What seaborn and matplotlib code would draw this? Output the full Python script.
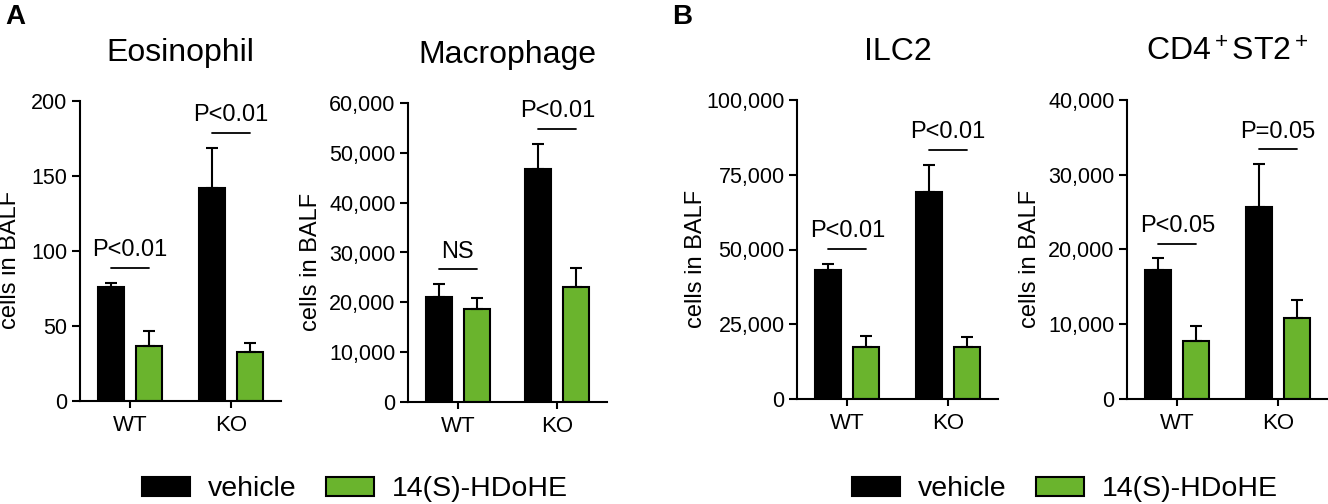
import matplotlib
matplotlib.use("Agg")
import matplotlib.pyplot as plt
import matplotlib.ticker as mticker
from matplotlib.patches import Patch
import numpy as np
import pandas as pd
import seaborn as sns

groups = ["WT", "KO"]
treatments = ["vehicle", "14(S)-HDoHE"]
titles = ["Eosinophil", "Macrophage", "ILC2", r"CD4$^+$ST2$^+$"]

# mean and upper error (SEM)
eos_vehicle = [76, 142]
eos_vehicle_err = [3, 27]
eos_hdohe = [36.5, 33]
eos_hdohe_err = [10, 6]

mac_vehicle = [21000, 46800]
mac_vehicle_err = [2600, 5000]
mac_hdohe = [18700, 23000]
mac_hdohe_err = [2200, 3900]

ilc2_vehicle = [43000, 69200]
ilc2_vehicle_err = [2300, 9000]
ilc2_hdohe = [17500, 17400]
ilc2_hdohe_err = [3600, 3300]

cd4_vehicle = [17200, 25700]
cd4_vehicle_err = [1600, 5700]
cd4_hdohe = [7800, 10900]
cd4_hdohe_err = [2000, 2300]

eos_p = ["P<0.01", "P<0.01"]
mac_p = ["NS", "P<0.01"]
ilc2_p = ["P<0.01", "P<0.01"]
cd4_p = ["P<0.05", "P=0.05"]

y_max = [200, 60000, 100000, 40000]
y_step = [50, 10000, 25000, 10000]

panels = [
    (eos_vehicle, eos_vehicle_err, eos_hdohe, eos_hdohe_err, eos_p),
    (mac_vehicle, mac_vehicle_err, mac_hdohe, mac_hdohe_err, mac_p),
    (ilc2_vehicle, ilc2_vehicle_err, ilc2_hdohe, ilc2_hdohe_err, ilc2_p),
    (cd4_vehicle, cd4_vehicle_err, cd4_hdohe, cd4_hdohe_err, cd4_p),
]

BLACK = "#000000"
GREEN = "#6ab42d"

sns.set_style("ticks")
plt.rcParams["font.family"] = ["Liberation Sans", "DejaVu Sans"]
plt.rcParams["mathtext.fontset"] = "custom"
plt.rcParams["mathtext.rm"] = "Liberation Sans"
plt.rcParams["mathtext.it"] = "Liberation Sans"
plt.rcParams["axes.linewidth"] = 1.5
for key in ["text.color", "axes.labelcolor", "xtick.color", "ytick.color",
            "axes.edgecolor"]:
    plt.rcParams[key] = "black"

W, H = 1328, 504
fig = plt.figure(figsize=(W / 100, H / 100), dpi=100)

# axes boxes in pixels: left, right, top, bottom
boxes = [(80, 281, 101, 401), (408, 607, 103, 402),
         (797, 998, 100, 399), (1127, 1328, 100, 399)]
label_x_px = [21, 322, 707, 1041]

for i, (veh, veh_err, trt, trt_err, pvals) in enumerate(panels):
    l, r, t, b = boxes[i]
    ax = fig.add_axes([l / W, (H - b) / H, (r - l) / W, (b - t) / H])

    df = pd.DataFrame({
        "group": groups * 2,
        "treatment": [treatments[0]] * 2 + [treatments[1]] * 2,
        "value": veh + trt,
    })
    sns.barplot(data=df, x="group", y="value", hue="treatment",
                order=groups, hue_order=treatments,
                palette=[BLACK, GREEN], saturation=1,
                width=0.76, gap=0.32, errorbar=None,
                edgecolor="black", linewidth=1.5, legend=False, ax=ax)

    centers = []
    for cont, err in zip(ax.containers, [veh_err, trt_err]):
        xs = [p.get_x() + p.get_width() / 2 for p in cont.patches]
        ys = [p.get_height() for p in cont.patches]
        ax.errorbar(xs, ys, yerr=[np.zeros(len(err)), err], fmt="none",
                    ecolor="black", elinewidth=1.5, capsize=4, capthick=1.5,
                    zorder=1)
        centers.append(xs)

    # significance lines and labels
    for j in range(len(groups)):
        x0 = centers[0][j]
        x1 = centers[1][j]
        top = max(veh[j] + veh_err[j], trt[j] + trt_err[j])
        yl = top + 0.05 * y_max[i]
        ax.plot([x0, x1], [yl, yl], color="black", lw=1.3, clip_on=False)
        ax.annotate(pvals[j], xy=((x0 + x1) / 2, yl), xytext=(0, 8.5),
                    textcoords="offset points", ha="center", va="baseline",
                    fontsize=17, annotation_clip=False)

    ax.set_xlim(-0.5, 1.5)
    ax.set_ylim(0, y_max[i])
    ax.yaxis.set_major_locator(mticker.MultipleLocator(y_step[i]))
    ax.yaxis.set_major_formatter(mticker.FuncFormatter(lambda v, p: f"{int(v):,}"))
    sns.despine(ax=ax)
    ax.tick_params(axis="y", length=6, width=1.5, pad=3, labelsize=15.5)
    ax.tick_params(axis="x", length=5, width=1.5, pad=5, labelsize=16)
    ax.set_xlabel("")
    ax.set_ylabel("cells in BALF", fontsize=17)
    ax.yaxis.set_label_coords((label_x_px[i] - l) / (r - l), 0.47)
    ax.set_title(titles[i], fontsize=23, pad=28.5)

fig.text(5 / W, 1 - 4 / H, "A", fontsize=20, fontweight="bold", va="top")
fig.text(672 / W, 1 - 4 / H, "B", fontsize=20, fontweight="bold", va="top")

handles = [Patch(facecolor=BLACK, edgecolor="black", linewidth=1.5),
           Patch(facecolor=GREEN, edgecolor="black", linewidth=1.5)]
for x_px in [142, 852]:
    fig.legend(handles, treatments, loc="center left",
               bbox_to_anchor=(x_px / W, (H - 489.5) / H),
               ncol=2, frameon=False, fontsize=20.5, borderpad=0,
               borderaxespad=0, handlelength=1.7, handleheight=0.6,
               handletextpad=0.6, columnspacing=1.05)

fig.savefig("out.png", dpi=100)
